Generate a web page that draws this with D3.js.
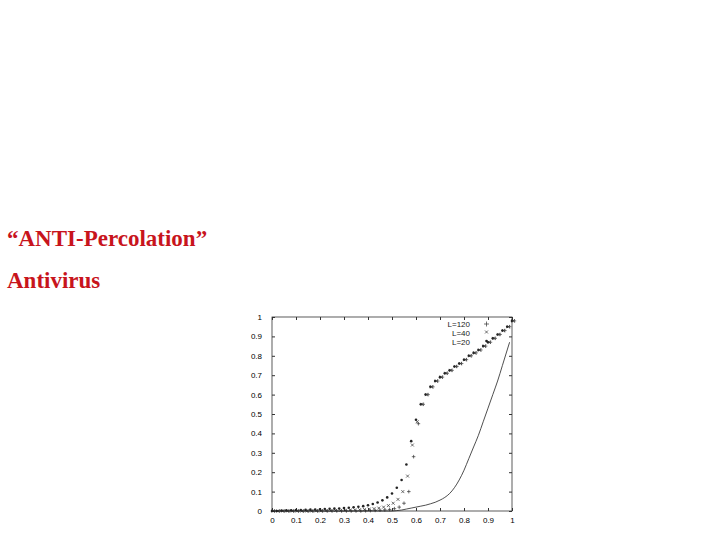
<!DOCTYPE html><html><head><script src="https://cdn.jsdelivr.net/npm/d3@7"></script>
<style>body{margin:0;background:#fff}</style></head><body><svg width="720" height="540"></svg><script>
const xs = [0,0.02,0.04,0.06,0.08,0.1,0.12,0.14,0.16,0.18,0.2,0.22,0.24,0.26,0.28,0.3,0.32,0.34,0.36,0.38,0.4,0.42,0.44,0.46,0.48,0.5,0.52,0.54,0.56,0.58,0.6,0.62,0.64,0.66,0.68,0.7,0.72,0.74,0.76,0.78,0.8,0.82,0.84,0.86,0.88,0.9,0.92,0.94,0.96,0.98,1];
const dots = [0,0,0.002,0.003,0.004,0.005,0.005,0.006,0.007,0.008,0.009,0.01,0.011,0.012,0.013,0.015,0.017,0.019,0.022,0.025,0.03,0.036,0.044,0.055,0.07,0.09,0.12,0.16,0.24,0.36,0.47,0.55,0.6,0.64,0.67,0.69,0.71,0.725,0.745,0.76,0.78,0.8,0.815,0.83,0.85,0.87,0.89,0.91,0.93,0.95,0.98];
const crossX = [0,0,0,0,0,0,0,0,0,0.001,0.001,0.002,0.002,0.003,0.003,0.004,0.005,0.006,0.007,0.008,0.01,0.012,0.015,0.02,0.028,0.04,0.06,0.1,0.18,0.34,0.46,0.55,0.6,0.64,0.67,0.69,0.71,0.725,0.745,0.76,0.78,0.8,0.815,0.83,0.85,0.87,0.89,0.91,0.93,0.95,0.98];
const plus = [0,0,0,0,0,0,0,0,0,0,0,0,0,0,0,0,0,0,0,0.001,0.002,0.003,0.004,0.006,0.008,0.012,0.02,0.04,0.1,0.28,0.45,0.55,0.6,0.64,0.67,0.69,0.71,0.725,0.745,0.76,0.78,0.8,0.815,0.83,0.85,0.87,0.89,0.91,0.93,0.95,0.98];
const lineX = [0,0.5,0.52,0.54,0.56,0.58,0.6,0.62,0.64,0.66,0.68,0.7,0.72,0.74,0.76,0.78,0.8,0.82,0.84,0.86,0.88,0.9,0.92,0.94,0.96,0.98,0.99];
const lineY = [0,0,0.002,0.005,0.01,0.015,0.02,0.025,0.03,0.037,0.045,0.056,0.07,0.09,0.12,0.16,0.21,0.27,0.33,0.39,0.46,0.53,0.6,0.67,0.75,0.83,0.87];
const ticks = [0,0.1,0.2,0.3,0.4,0.5,0.6,0.7,0.8,0.9,1];
const legend = ["L=120","L=40","L=20"];

const svg = d3.select("svg");
const red = "#c8141c";
svg.append("text").attr("x",7).attr("y",246).text("\u201CANTI-Percolation\u201D").attr("font-family","Liberation Serif").attr("font-weight","bold").attr("font-size",23).attr("fill",red);
svg.append("text").attr("x",7).attr("y",288).text("Antivirus").attr("font-family","Liberation Serif").attr("font-weight","bold").attr("font-size",23).attr("fill",red);

const x = d3.scaleLinear().domain([0,1]).range([272,512]);
const y = d3.scaleLinear().domain([0,1]).range([511,317]);
const g = svg.append("g").attr("font-family","Liberation Sans").attr("font-size",8).attr("fill","#222");
g.append("rect").attr("x",272).attr("y",317).attr("width",240).attr("height",194).attr("fill","none").attr("stroke","#333").attr("stroke-width",0.8);
const ax = d3.axisBottom(x).tickValues(ticks).tickFormat(d3.format("~g")).tickSizeInner(3).tickSizeOuter(0);
const ay = d3.axisLeft(y).tickValues(ticks).tickFormat(d3.format("~g")).tickSizeInner(3).tickSizeOuter(0);
const bx = g.append("g").attr("transform","translate(0,511)").call(ax);
const by = g.append("g").attr("transform","translate(272,0)").call(ay);
g.append("g").attr("transform","translate(0,317)").call(d3.axisBottom(x).tickValues(ticks).tickFormat("").tickSizeInner(3).tickSizeOuter(0));
g.append("g").attr("transform","translate(512,0)").call(d3.axisLeft(y).tickValues(ticks).tickFormat("").tickSizeInner(3).tickSizeOuter(0));
g.selectAll(".domain").remove();
g.selectAll(".tick line").attr("stroke","#333");
bx.selectAll("text").attr("font-size",8);
by.selectAll("text").attr("font-size",8).attr("x",-10);
bx.selectAll(".tick line").attr("y2",-3);
by.selectAll(".tick line").attr("x2",3);
const pts = svg.append("g");
xs.forEach((v,i)=>{
  pts.append("circle").attr("cx",x(v)).attr("cy",y(dots[i])).attr("r",1.3).attr("fill","#222");
  const cx=x(v+0.005), cy=y(crossX[i]);
  pts.append("path").attr("d",`M${cx-1.5},${cy-1.5}L${cx+1.5},${cy+1.5}M${cx-1.5},${cy+1.5}L${cx+1.5},${cy-1.5}`).attr("stroke","#333").attr("stroke-width",0.7);
  const px=x(v+0.01), py=y(plus[i]);
  pts.append("path").attr("d",`M${px-1.8},${py}L${px+1.8},${py}M${px},${py-1.8}L${px},${py+1.8}`).attr("stroke","#333").attr("stroke-width",0.7);
});
svg.append("path").datum(lineX.map((v,i)=>[v,lineY[i]])).attr("d",d3.line().x(d=>x(d[0])).y(d=>y(d[1])).curve(d3.curveMonotoneX)).attr("fill","none").attr("stroke","#222").attr("stroke-width",0.8);
legend.forEach((t,i)=>{
  const ly=327+i*9;
  svg.append("text").attr("x",470).attr("y",ly).attr("text-anchor","end").attr("font-family","Liberation Sans").attr("font-size",8).attr("fill","#222").text(t);
});
svg.append("path").attr("d",`M484,${324}h5M486.5,321.5v5`).attr("stroke","#333").attr("stroke-width",0.7);
svg.append("path").attr("d",`M485,330.5l3,3M485,333.5l3,-3`).attr("stroke","#333").attr("stroke-width",0.7);
svg.append("circle").attr("cx",486.5).attr("cy",341).attr("r",1.3).attr("fill","#222");
</script></body></html>
